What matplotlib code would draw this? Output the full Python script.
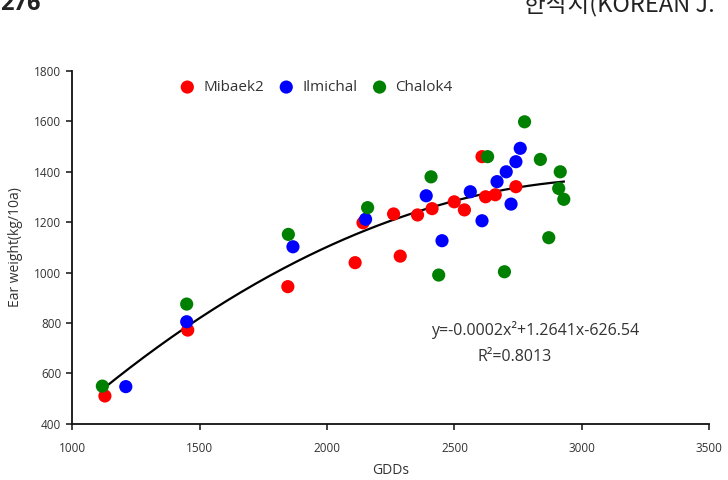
import numpy as np
import matplotlib
matplotlib.use("Agg")
import matplotlib.pyplot as plt

plt.rcParams['font.family'] = ['Open Sans', 'Noto Sans CJK KR', 'DejaVu Sans']

# Data (GDDs, Ear weight kg/10a)
mibaek2_x = [1128, 1453, 1846, 2110, 2141, 2261, 2287, 2355, 2412, 2499, 2539, 2608, 2622, 2660, 2741]
mibaek2_y = [511, 772, 944, 1039, 1197, 1232, 1065, 1228, 1253, 1280, 1248, 1459, 1300, 1308, 1340]

ilmichal_x = [1210, 1449, 1866, 2151, 2389, 2451, 2562, 2608, 2667, 2703, 2722, 2741, 2758]
ilmichal_y = [548, 805, 1102, 1211, 1304, 1126, 1320, 1205, 1360, 1399, 1271, 1439, 1492]

chalok4_x = [1118, 1449, 1848, 2159, 2408, 2438, 2630, 2696, 2775, 2837, 2870, 2909, 2915, 2929]
chalok4_y = [550, 875, 1151, 1257, 1379, 990, 1459, 1003, 1597, 1448, 1138, 1333, 1399, 1290]

fit_coef = [-0.0002, 1.2641, -626.54]
fit_range = [1118, 2929]

x_ticks = [1000, 1500, 2000, 2500, 3000, 3500]
y_ticks = [400, 600, 800, 1000, 1200, 1400, 1600, 1800]

fig = plt.figure(figsize=(7.28, 4.8), dpi=100)
ax = fig.add_axes([0.0993, 0.1167, 0.875, 0.7363])

ms = 90
ax.scatter(mibaek2_x, mibaek2_y, s=ms, color='#ff0000', edgecolors='none', label='Mibaek2', zorder=3)
ax.scatter(ilmichal_x, ilmichal_y, s=ms, color='#0000ff', edgecolors='none', label='Ilmichal', zorder=3)
ax.scatter(chalok4_x, chalok4_y, s=ms, color='#008000', edgecolors='none', label='Chalok4', zorder=3)

xx = np.linspace(fit_range[0], fit_range[1], 200)
ax.plot(xx, np.polyval(fit_coef, xx), color='black', lw=1.6, zorder=2)

ax.set_xlim(1000, 3500)
ax.set_ylim(400, 1800)
ax.set_xticks(x_ticks)
ax.set_yticks(y_ticks)
ax.spines['top'].set_visible(False)
ax.spines['right'].set_visible(False)
for s in ['left', 'bottom']:
    ax.spines[s].set_linewidth(1.3)
    ax.spines[s].set_color('#111111')
ax.tick_params(axis='both', direction='out', length=4, width=1.1, labelsize=8.5,
               labelcolor='#333333', color='#111111')
ax.tick_params(axis='x', pad=9)
ax.tick_params(axis='y', pad=4)

ax.set_xlabel('GDDs', fontsize=10, color='#333333', labelpad=6)
ax.set_ylabel('Ear weight(kg/10a)', fontsize=10, color='#333333', labelpad=8)

ax.legend(loc='upper left', bbox_to_anchor=(0.135, 1.012), ncol=3, frameon=False,
          fontsize=11, handletextpad=0.05, columnspacing=0.45, markerscale=1.0,
          labelcolor='#333333')

ax.text(0.726, 0.266, 'y=-0.0002x²+1.2641x-626.54', transform=ax.transAxes,
        ha='center', va='center', fontsize=11.5, color='#333333')
ax.text(0.695, 0.19, 'R²=0.8013', transform=ax.transAxes,
        ha='center', va='center', fontsize=11.5, color='#333333')

fig.text(0.0, 0.979, '276', ha='left', va='baseline', fontsize=17, fontweight='bold',
         color='#222222')
fig.text(0.982, 0.975, '한작지(KOREAN J.', ha='right', va='baseline', fontsize=17,
         color='#222222', family=['Noto Sans CJK KR', 'DejaVu Sans'])

fig.savefig('out.png', dpi=100)
